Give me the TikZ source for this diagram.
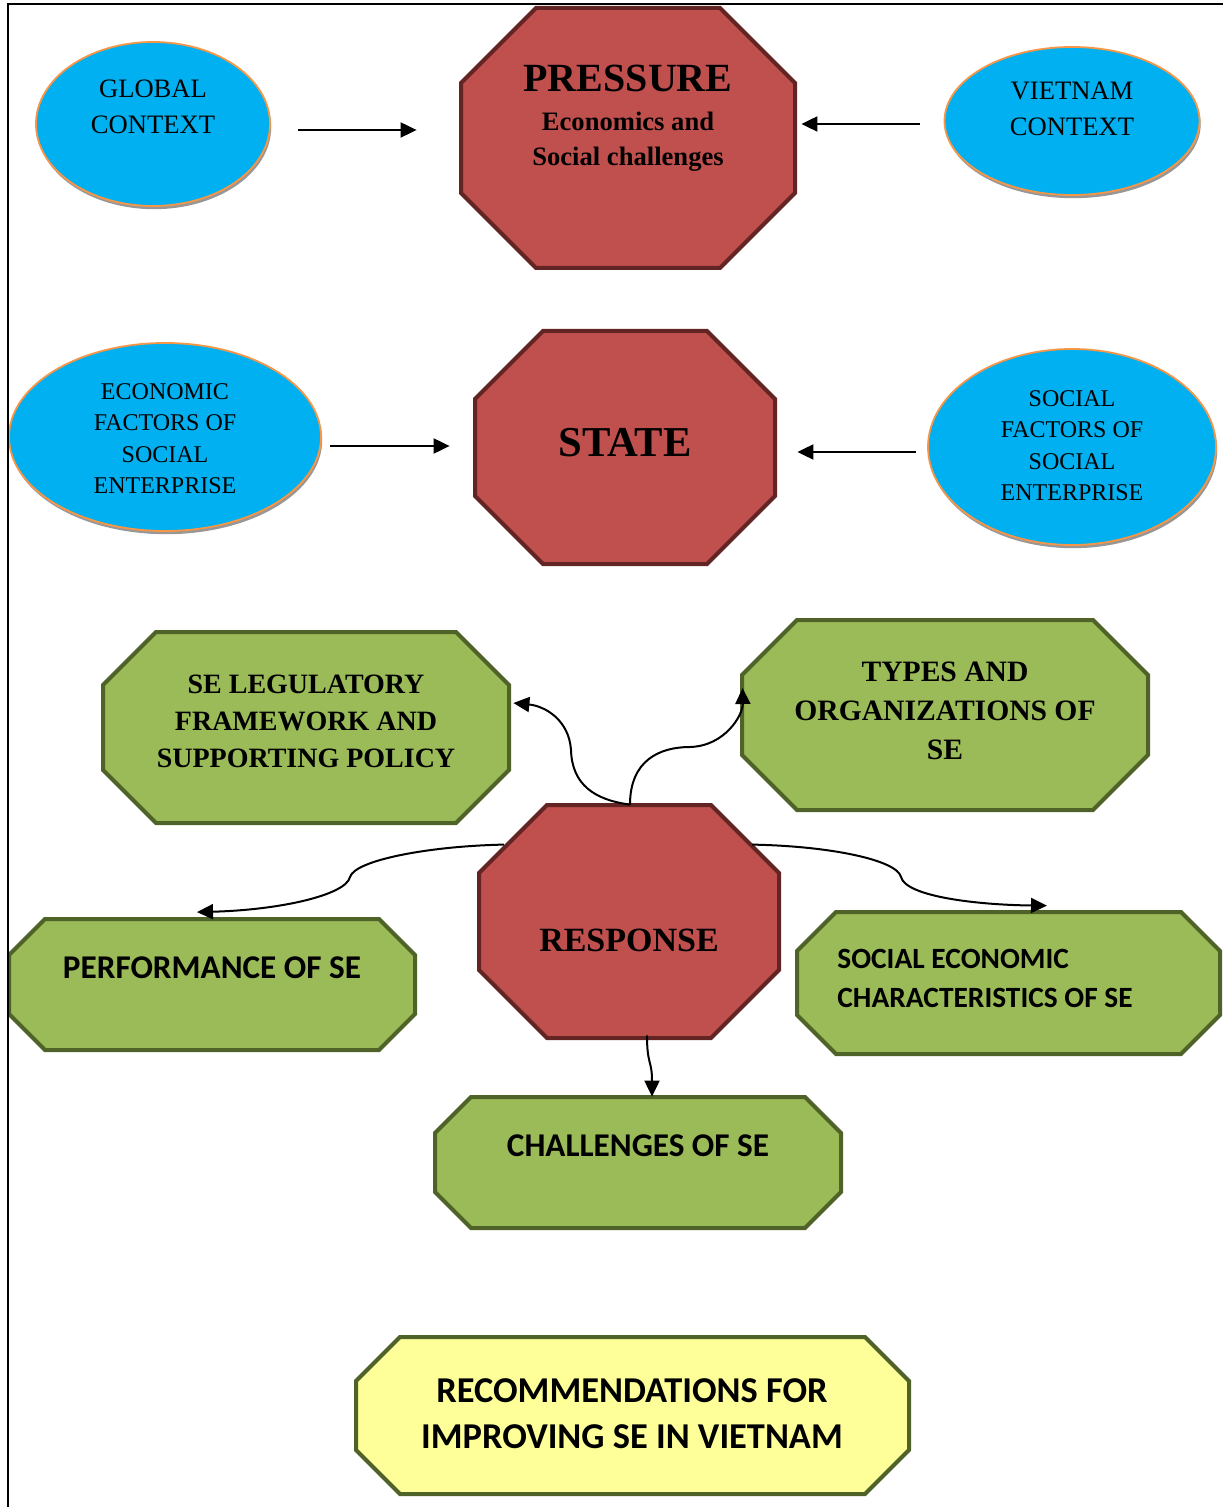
\documentclass[tikz,border=0pt]{standalone}
\usepackage{fontspec}
\setmainfont{Liberation Serif}
\newfontfamily\calibri{Carlito}
\usetikzlibrary{shapes.geometric,arrows.meta,shadows}

\definecolor{skyfill}{HTML}{00B0F0}
\definecolor{skyline}{HTML}{F79646}
\definecolor{redfill}{HTML}{C0504D}
\definecolor{redline}{HTML}{632523}
\definecolor{greenfill}{HTML}{9BBB59}
\definecolor{greenline}{HTML}{4F6228}
\definecolor{lemonfill}{HTML}{FFFF99}

\tikzset{
  octcx/.initial=20pt,
  octcy/.initial=20pt,
  octlw/.initial=2pt,
  octfill/.initial=redfill,
  octline/.initial=redline,
  % rectangle node that paints a cut-corner octagon inside its box
  octbox/.style n args={3}{rectangle, draw=none, inner sep=0pt,
    minimum width=#1, minimum height=#2, octcx=#3, octcy=#3,
    path picture={
      \pgfmathsetlengthmacro\cx{\pgfkeysvalueof{/tikz/octcx}}
      \pgfmathsetlengthmacro\cy{\pgfkeysvalueof{/tikz/octcy}}
      \pgfmathsetlengthmacro\hl{\pgfkeysvalueof{/tikz/octlw}/2}
      \path[fill=\pgfkeysvalueof{/tikz/octfill},
            draw=\pgfkeysvalueof{/tikz/octline},
            line width=\pgfkeysvalueof{/tikz/octlw}]
        ([xshift=\cx, yshift=-\hl]path picture bounding box.north west) --
        ([xshift=-\cx, yshift=-\hl]path picture bounding box.north east) --
        ([xshift=-\hl, yshift=-\cy]path picture bounding box.north east) --
        ([xshift=-\hl, yshift=\cy]path picture bounding box.south east) --
        ([xshift=-\cx, yshift=\hl]path picture bounding box.south east) --
        ([xshift=\cx, yshift=\hl]path picture bounding box.south west) --
        ([xshift=\hl, yshift=\cy]path picture bounding box.south west) --
        ([xshift=\hl, yshift=-\cy]path picture bounding box.north west) -- cycle;
    }},
  redoct/.style={octfill=redfill, octline=redline},
  greenoct/.style={octfill=greenfill, octline=greenline},
  lemonoct/.style={octfill=lemonfill, octline=greenline},
  ell/.style={ellipse, inner sep=0pt, draw=skyline, line width=0.9pt, fill=skyfill,
    drop shadow={shadow xshift=0.6pt, shadow yshift=-1.6pt, fill=black!45, opacity=0.9}},
  elltext/.style={align=center, inner sep=0pt, font=\fontsize{13.3}{18}\selectfont},
  elltextsmall/.style={align=center, inner sep=0pt, font=\fontsize{12}{15.75}\selectfont},
  boldtext/.style={align=center, inner sep=0pt, font=\bfseries\fontsize{14}{18.5}\selectfont},
  sanstext/.style={align=center, inner sep=0pt, font=\calibri\bfseries\fontsize{16.6}{19.5}\selectfont},
  conn/.style={line width=1pt, -{Triangle[length=8pt,width=7.5pt]}},
}

\begin{document}
\begin{tikzpicture}[x=0.5pt, y=-0.5pt]
\useasboundingbox (0,0) rectangle (1223,1507);

% context ellipses
\node[ell, minimum width=117pt, minimum height=82pt] (global) at (153,124) {};
\node[ell, minimum width=127.5pt, minimum height=74pt] (vietnam) at (1072,121) {};
\node[ell, minimum width=156pt, minimum height=94pt] (economic) at (165,437) {};
\node[ell, minimum width=144pt, minimum height=98pt] (social) at (1072,447) {};

\node[elltext] (global-text) at (153,107) {GLOBAL\\CONTEXT};
\node[elltext] (vietnam-text) at (1072,108.5) {VIETNAM\\CONTEXT};
\node[elltextsmall] (economic-text) at (165,438.5) {ECONOMIC\\FACTORS OF\\SOCIAL\\ENTERPRISE};
\node[elltextsmall] (social-text) at (1072,445.5) {SOCIAL\\FACTORS OF\\SOCIAL\\ENTERPRISE};

% pressure / state / response
\node[octbox={169pt}{132pt}{38.5pt}, redoct] (pressure) at (628,138) {};
\node[octbox={152pt}{118.5pt}{35pt}, redoct] (state) at (625,447.5) {};
\node[octbox={152pt}{118.5pt}{35pt}, redoct] (response) at (629,921.5) {};

\node[inner sep=0pt, font=\bfseries\fontsize{20}{24}\selectfont] (pressure-title) at (628,78) {PRESSURE};
\node[align=center, inner sep=0pt, font=\bfseries\fontsize{13.3}{17.5}\selectfont] (pressure-sub) at (628,142) {Economics and\\Social challenges};
\node[inner sep=0pt, font=\bfseries\fontsize{21.3}{25}\selectfont] (state-text) at (625,443) {STATE};
\node[inner sep=0pt, font=\bfseries\fontsize{17}{20}\selectfont] (response-text) at (629,940) {RESPONSE};

% response themes
\node[octbox={205pt}{97.5pt}{27.5pt}, greenoct] (legul) at (306,727.5) {};
\node[octbox={205pt}{97pt}{28.5pt}, greenoct] (types) at (945,715) {};
\node[octbox={205pt}{67.5pt}{19pt}, greenoct] (perf) at (212,984.5) {};
\node[octbox={213.5pt}{73pt}{20.5pt}, greenoct] (socecon) at (1008.5,983) {};
\node[octbox={205pt}{67.5pt}{19pt}, greenoct] (challenges) at (638,1162.5) {};
\node[octbox={278.5pt}{80.5pt}{23pt}, lemonoct] (recommend) at (632.5,1415.5) {};

\node[boldtext] (legul-text) at (306,721) {SE LEGULATORY\\FRAMEWORK AND\\SUPPORTING POLICY};
\node[boldtext, font=\bfseries\fontsize{14.8}{19.5}\selectfont] (types-text) at (945,711) {TYPES AND\\ORGANIZATIONS OF\\SE};
\node[sanstext] (perf-text) at (212,968) {PERFORMANCE OF SE};
\node[sanstext, align=left, anchor=west, font=\calibri\bfseries\fontsize{14.7}{19.5}\selectfont] (socecon-text) at (837,978.5) {SOCIAL ECONOMIC\\CHARACTERISTICS OF SE};
\node[sanstext] (challenges-text) at (638,1146) {CHALLENGES OF SE};
\node[sanstext, font=\calibri\bfseries\fontsize{18.2}{23}\selectfont] (recommend-text) at (632,1414) {RECOMMENDATIONS FOR\\IMPROVING SE IN VIETNAM};

% straight connectors
\draw[conn] ([shift={(27,6)}]global.east) -- ([shift={(-42,-8)}]pressure.west);
\draw[conn] ([shift={(-24,3)}]vietnam.west) -- ([shift={(4,-14)}]pressure.east);
\draw[conn] ([shift={(8,9)}]economic.east) -- ([shift={(-23,-1.5)}]state.west);
\draw[conn] ([shift={(-11,5)}]social.west) -- ([shift={(20,4.5)}]state.east);

% curved connectors from the response
\draw[conn] ([shift={(1,2)}]response.north) .. controls (595,800) and (572,785) .. (571,750)
  .. controls (569,720) and (545,706) .. ([shift={(2,-24.5)}]legul.east);
\draw[conn] ([shift={(1,2)}]response.north) .. controls (630,760) and (660,747) .. (690,747)
  .. controls (725,746) and (743,715) .. ([shift={(3,-27)}]types.west);
\draw[conn] ([shift={(-125,42)}]response.north) .. controls (430,846) and (355,860) .. (350,877)
  .. controls (346,895) and (280,910) .. ([shift={(-15,-4.5)}]perf.north);
\draw[conn] ([shift={(123,42)}]response.north) .. controls (830,846) and (897,860) .. (901,877)
  .. controls (906,897) and (980,905) .. ([shift={(38.5,-4)}]socecon.north);
\draw[conn] ([shift={(18,-5)}]response.south) .. controls (647,1065) and (652,1060) .. ([shift={(14,2)}]challenges.north);

% page frame
\draw[line width=1pt] (7.7,1507) -- (7.7,4.3) -- (1223,4.3);
\end{tikzpicture}
\end{document}
